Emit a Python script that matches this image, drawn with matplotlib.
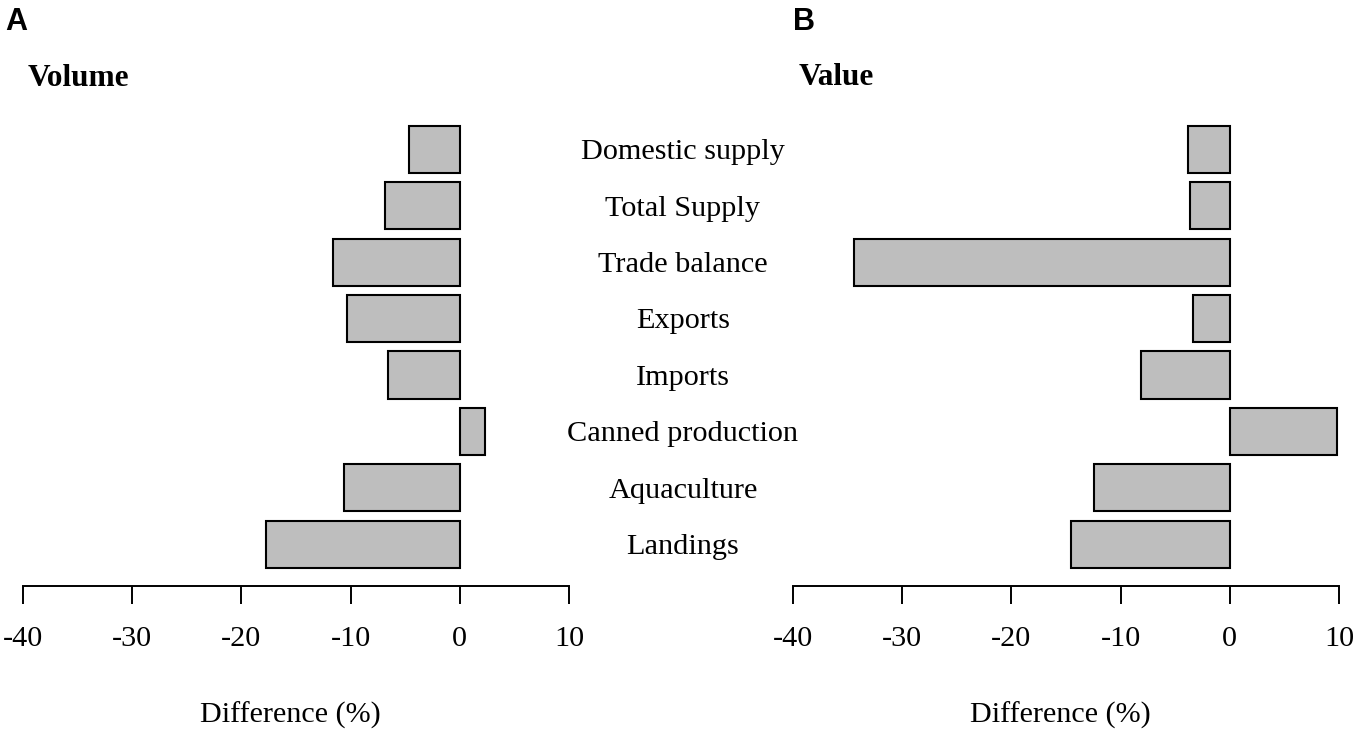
"""
Difference (%) in volume and value per category, two panels
"""

import matplotlib.pyplot as plt
import matplotlib.transforms as mtransforms

categories = ['Landings', 'Aquaculture', 'Canned production', 'Imports',
              'Exports', 'Trade balance', 'Total Supply', 'Domestic supply']
volume_diff = [-17.74, -10.57, 2.31, -6.62, -10.32, -11.6, -6.88, -4.69]
value_diff = [-14.5, -12.42, 9.8, -8.1, -3.39, -34.4, -3.64, -3.83]
xticks = [-40, -30, -20, -10, 0, 10]

W, H = 1355, 729
plt.rcParams['font.family'] = ['Liberation Serif', 'DejaVu Serif']

fig = plt.figure(figsize=(W / 100, H / 100), dpi=100)


def px_axes(x0, x1, y_top, y_bot):
    return fig.add_axes([x0 / W, 1 - y_bot / H, (x1 - x0) / W, (y_bot - y_top) / H])


ax_vol = px_axes(23, 569, 100, 586)
ax_val = px_axes(793, 1339, 100, 586)

ypos = list(range(len(categories)))

for ax, data in [(ax_vol, volume_diff), (ax_val, value_diff)]:
    ax.barh(ypos, data, height=0.835, color='#bebebe', edgecolor='black', linewidth=1.5)
    ax.set_xlim(-40, 10)
    ax.set_ylim(-0.74, 7.874)
    for side in ['left', 'right', 'top']:
        ax.spines[side].set_visible(False)
    ax.spines['bottom'].set_linewidth(1.4)
    ax.set_yticks([])
    ax.set_xticks(xticks)
    ax.set_xticklabels([str(t) for t in xticks])
    ax.tick_params(axis='x', direction='out', length=13, width=1.4, pad=15.5, labelsize=21.7)
    ax.set_xlabel('Difference (%)', fontsize=21.7)
    ax.xaxis.label.set_va('center')
    ax.xaxis.set_label_coords(0.49, (586 - 715) / 486)
    ax.patch.set_alpha(0)

# category labels between panels
trans = mtransforms.blended_transform_factory(fig.transFigure, ax_vol.transData)
for y, name in zip(ypos, categories):
    ax_vol.text(683 / W, y - 0.05, name, transform=trans, ha='center', va='center',
                fontsize=21.8, clip_on=False)

fig.text(5 / W, 1 - 29.5 / H, 'A', family=['Liberation Sans', 'DejaVu Sans'],
         fontweight='bold', fontsize=22, va='baseline', ha='left')
fig.text(793 / W, 1 - 29.5 / H, 'B', family=['Liberation Sans', 'DejaVu Sans'],
         fontweight='bold', fontsize=22, va='baseline', ha='left')
fig.text(28 / W, 1 - 86 / H, 'Volume', fontweight='bold', fontsize=22.5,
         va='baseline', ha='left')
fig.text(799 / W, 1 - 85 / H, 'Value', fontweight='bold', fontsize=22.5,
         va='baseline', ha='left')

fig.savefig('out.png', dpi=100)
